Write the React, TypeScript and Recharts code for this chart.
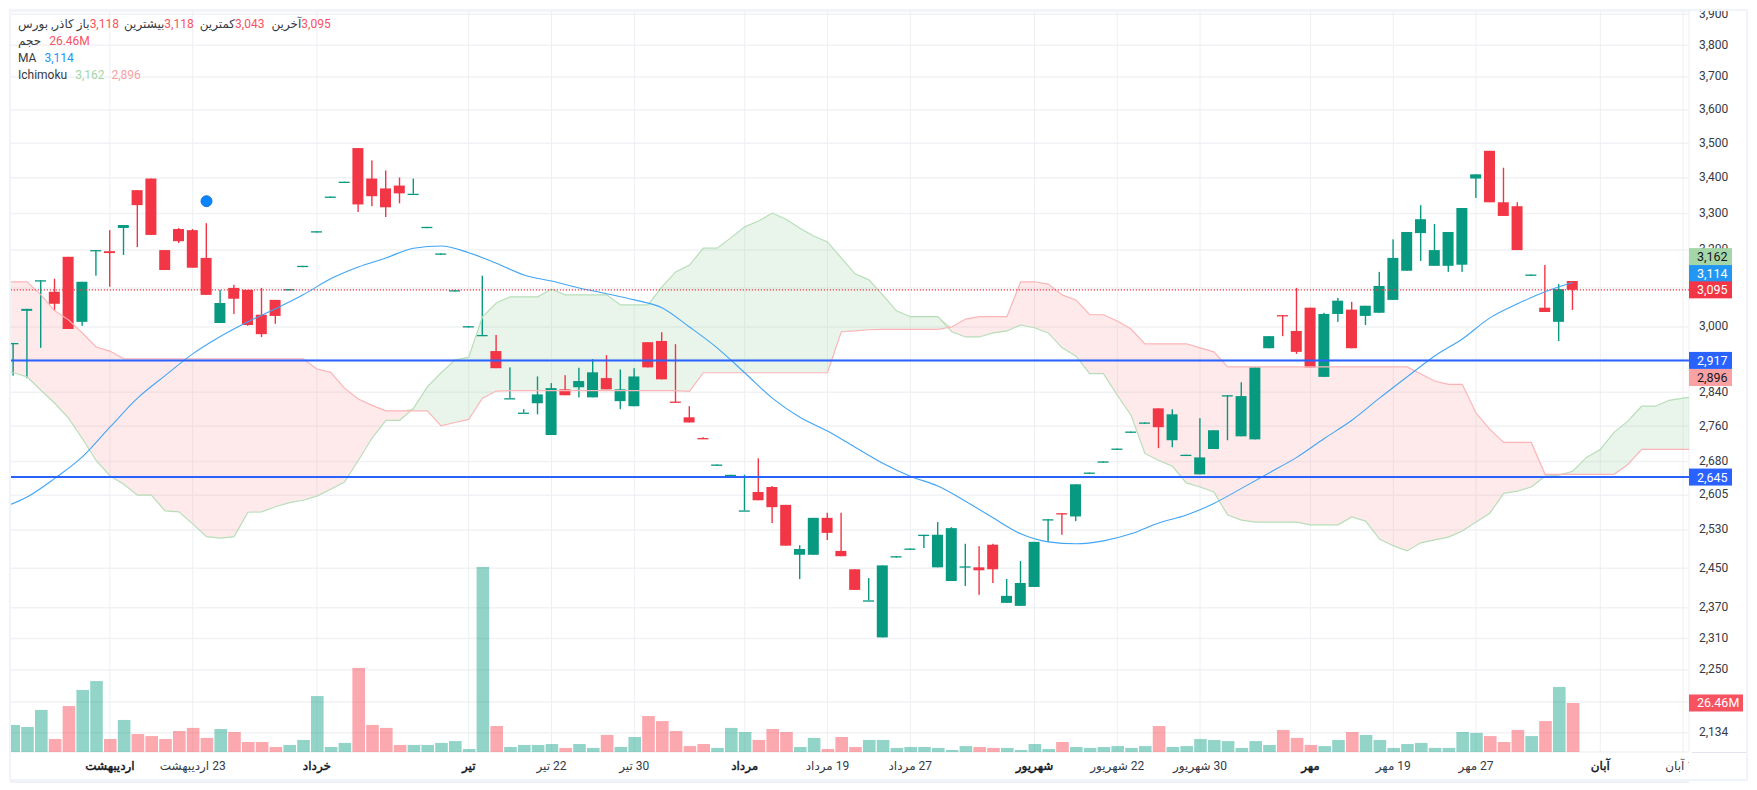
import React from 'react';
import {
  ComposedChart,
  Bar,
  Line,
  Area,
  XAxis,
  YAxis,
  CartesianGrid,
  ReferenceLine,
  ReferenceDot
} from 'recharts';

// candles, one per trading day
const opens = [
  2958, 3041, 3120, 3090, 3182, 3013, 3200, 3197, 3260, 3365,
  3398, 3200, 3257, 3254, 3179, 3010, 3100, 3095, 3031, 3069,
  3097, 3158, 3251, 3347, 3389, 3486, 3398, 3370, 3378, 3355,
  3263, 3191, 3094, 3002, 2980, 2940, 2826, 2792, 2814, 2740,
  2847, 2852, 2828, 2874, 2819, 2807, 2962, 2965, 2818, 2781,
  2733, 2673, 2650, 2572, 2612, 2623, 2584, 2478, 2478, 2556,
  2486, 2448, 2385, 2312, 2475, 2491, 2520, 2452, 2424, 2454,
  2452, 2499, 2380, 2374, 2412, 2553, 2566, 2559, 2655, 2680,
  2709, 2748, 2769, 2802, 2728, 2695, 2651, 2708, 2833, 2737,
  2730, 2947, 3030, 2990, 3049, 2877, 3033, 3044, 3028, 3036,
  3069, 3145, 3246, 3158, 3158, 3161, 3398, 3478, 3331, 3320,
  3135, 3049, 3013, 3118
];
const highs = [
  2960, 3046, 3120, 3124, 3182, 3116, 3200, 3254, 3268, 3365,
  3398, 3200, 3260, 3257, 3273, 3095, 3108, 3095, 3100, 3069,
  3097, 3158, 3251, 3347, 3389, 3486, 3450, 3421, 3401, 3398,
  3263, 3191, 3094, 3002, 3132, 2980, 2900, 2800, 2878, 2862,
  2881, 2899, 2920, 2930, 2895, 2898, 2962, 2987, 2957, 2807,
  2735, 2673, 2650, 2650, 2687, 2625, 2584, 2498, 2556, 2567,
  2567, 2448, 2430, 2456, 2475, 2491, 2520, 2547, 2536, 2501,
  2496, 2501, 2428, 2465, 2505, 2553, 2566, 2629, 2655, 2680,
  2709, 2748, 2769, 2802, 2800, 2695, 2779, 2751, 2833, 2864,
  2900, 2977, 3030, 3100, 3049, 3036, 3074, 3064, 3054, 3142,
  3229, 3249, 3323, 3271, 3249, 3315, 3410, 3478, 3429, 3331,
  3135, 3160, 3110, 3118
];
const lows = [
  2880, 2874, 2948, 3041, 2995, 3003, 3132, 3103, 3187, 3208,
  3241, 3147, 3219, 3153, 3082, 3010, 3033, 3003, 2975, 3008,
  3097, 3158, 3251, 3347, 3389, 3304, 3320, 3290, 3328, 3355,
  3263, 3191, 3094, 3002, 2980, 2898, 2826, 2792, 2788, 2740,
  2833, 2828, 2828, 2847, 2800, 2807, 2900, 2871, 2816, 2769,
  2731, 2673, 2650, 2572, 2594, 2545, 2497, 2428, 2478, 2509,
  2475, 2406, 2385, 2312, 2475, 2491, 2492, 2452, 2424, 2414,
  2396, 2420, 2380, 2374, 2412, 2505, 2520, 2549, 2655, 2680,
  2709, 2748, 2769, 2710, 2712, 2695, 2651, 2708, 2728, 2737,
  2730, 2947, 2977, 2933, 2900, 2877, 3013, 2947, 3005, 3036,
  3069, 3145, 3171, 3158, 3142, 3142, 3343, 3331, 3293, 3200,
  3135, 3038, 2965, 3043
];
const closes = [
  2960, 3046, 3120, 3059, 2995, 3116, 3200, 3192, 3268, 3323,
  3241, 3147, 3224, 3153, 3082, 3061, 3072, 3005, 2982, 3028,
  3097, 3158, 3251, 3347, 3389, 3325, 3348, 3317, 3356, 3355,
  3263, 3191, 3094, 3002, 2980, 2898, 2826, 2792, 2835, 2850,
  2833, 2867, 2888, 2847, 2847, 2878, 2900, 2871, 2816, 2769,
  2731, 2673, 2650, 2572, 2594, 2579, 2497, 2490, 2556, 2524,
  2475, 2406, 2385, 2456, 2475, 2491, 2520, 2520, 2534, 2454,
  2446, 2448, 2394, 2420, 2505, 2553, 2564, 2629, 2655, 2680,
  2709, 2748, 2769, 2758, 2788, 2695, 2689, 2751, 2833, 2831,
  2900, 2977, 3028, 2938, 2900, 3033, 3067, 2947, 3054, 3105,
  3179, 3249, 3284, 3200, 3249, 3315, 3410, 3331, 3293, 3200,
  3135, 3038, 3097, 3095
];

// volume in millions
const volumes = [
  14.6, 13.5, 22.7, 7.0, 24.8, 33.5, 38.3, 7.0, 17.3, 9.7,
  8.6, 7.0, 11.3, 13.0, 7.6, 12.4, 10.8, 5.4, 5.4, 2.7,
  3.8, 6.5, 30.2, 2.7, 4.9, 45.4, 14.6, 13.0, 3.8, 3.8,
  3.8, 4.9, 5.9, 1.6, 99.9, 14.0, 2.7, 3.8, 3.8, 4.3,
  2.2, 4.3, 2.2, 9.2, 2.7, 8.1, 19.4, 16.7, 11.3, 3.2,
  4.3, 2.2, 13.0, 10.8, 6.5, 12.4, 10.8, 2.7, 7.6, 1.6,
  8.1, 2.7, 6.5, 6.5, 2.2, 2.7, 2.7, 2.2, 1.1, 3.2,
  2.7, 2.2, 2.2, 1.1, 4.3, 1.6, 5.4, 2.7, 2.2, 2.7,
  3.2, 2.2, 3.2, 14.0, 2.7, 3.2, 7.0, 6.5, 5.9, 2.2,
  5.9, 3.8, 11.9, 7.6, 3.8, 3.2, 6.5, 10.8, 9.2, 6.5,
  2.2, 4.3, 4.9, 2.2, 2.2, 10.8, 10.3, 8.6, 5.4, 11.9,
  8.6, 16.7, 35.1, 26.46
];

// ichimoku spans, first entry is the day before the first candle
const spanA = [
  2889, 2887, 2877, 2845, 2814, 2779, 2732, 2682, 2648, 2629,
  2605, 2605, 2571, 2569, 2543, 2516, 2513, 2516, 2568, 2569,
  2580, 2589, 2594, 2603, 2618, 2634, 2682, 2733, 2774, 2774,
  2802, 2853, 2887, 2918, 2925, 3026, 3061, 3077, 3077, 3077,
  3097, 3082, 3082, 3082, 3082, 3056, 3056, 3056, 3103, 3142,
  3160, 3205, 3205, 3233, 3263, 3279, 3301, 3284, 3259, 3238,
  3222, 3179, 3137, 3121, 3082, 3041, 3026, 3026, 3026, 2988,
  2975, 2975, 2985, 2990, 3005, 2998, 2985, 2948, 2928, 2885,
  2885, 2833, 2786, 2698, 2682, 2669, 2632, 2623, 2612, 2562,
  2551, 2547, 2547, 2547, 2547, 2541, 2541, 2541, 2558, 2549,
  2511, 2497, 2486, 2503, 2509, 2515, 2528, 2547, 2566, 2609,
  2614, 2623, 2647, 2649, 2658, 2689, 2707, 2746, 2772, 2807,
  2807, 2821, 2826, 2831
];
const spanB = [
  3116, 3116, 3116, 3082, 3041, 3018, 2985, 2950, 2940, 2921,
  2921, 2921, 2921, 2921, 2921, 2921, 2921, 2921, 2921, 2921,
  2921, 2921, 2921, 2896, 2888, 2850, 2824, 2809, 2796, 2796,
  2796, 2796, 2761, 2769, 2776, 2826, 2843, 2844, 2844, 2844,
  2844, 2844, 2844, 2844, 2844, 2844, 2844, 2844, 2844, 2844,
  2842, 2887, 2887, 2887, 2887, 2887, 2887, 2887, 2887, 2887,
  2887, 2988, 2990, 2993, 2994, 2994, 2994, 2994, 2994, 3000,
  3020, 3026, 3026, 3026, 3116, 3116, 3110, 3082, 3069, 3031,
  3031, 3015, 2995, 2958, 2958, 2958, 2958, 2948, 2938, 2901,
  2901, 2901, 2901, 2901, 2901, 2901, 2901, 2901, 2901, 2901,
  2901, 2901, 2901, 2884, 2867, 2859, 2859, 2791, 2753, 2723,
  2723, 2723, 2651, 2651, 2651, 2651, 2651, 2651, 2673, 2707,
  2707, 2707, 2707, 2707
];

// moving average, read every second day
const maDays = [
  -1, 1, 3, 5, 7, 9, 11, 13, 15, 17, 19, 21, 23, 25, 27, 29, 31, 33, 35, 37,
  39, 41, 43, 45, 47, 49, 51, 53, 55, 57, 59, 61, 63, 65, 67, 69, 71, 73, 75, 77,
  79, 81, 83, 85, 87, 89, 91, 93, 95, 97, 99, 101, 103, 105, 107, 109, 111, 113
];
const maValues = [
  2576, 2601, 2642, 2690, 2758, 2826, 2880, 2933, 2976, 3013, 3046, 3082, 3124, 3155, 3179, 3205, 3211, 3193, 3165, 3134,
  3118, 3100, 3085, 3069, 3049, 3000, 2948, 2887, 2826, 2781, 2749, 2712, 2676, 2647, 2625, 2592, 2556, 2522, 2505, 2501,
  2507, 2522, 2545, 2562, 2587, 2620, 2654, 2689, 2732, 2774, 2826, 2877, 2928, 2970, 3023, 3059, 3090, 3114
];

const priceTicks = [
  3900, 3800, 3700, 3600, 3500, 3400, 3300, 3200, 3100, 3000, 2920, 2840,
  2760, 2680, 2605, 2530, 2450, 2370, 2310, 2250, 2190, 2134
];
const dateTicks = [7, 13, 22, 33, 39, 45, 53, 59, 65, 74, 80, 86, 94, 100, 106, 115, 121];
const dateLabels = [
  'اردیبهشت', '23 اردیبهشت', 'خرداد', 'تیر', '22 تیر', '30 تیر', 'مرداد', '19 مرداد', '27 مرداد',
  'شهریور', '22 شهریور', '30 شهریور', 'مهر', '19 مهر', '27 مهر', 'آبان', '11 آبان'
];
const monthNames = ['اردیبهشت', 'خرداد', 'تیر', 'مرداد', 'شهریور', 'مهر', 'آبان'];

const markerDay = 14;
const markerPrice = 3334;
const supportLevels = [2917, 2645];
const lastPrice = 3095;
const lastVolume = 26.46;

const TEAL = '#089981';
const RED = '#f23645';
const FONT = "Roboto, 'Noto Sans', 'DejaVu Sans', sans-serif";

const rows = spanA.map((a, n) => {
  const day = n - 1;
  const b = spanB[n];
  const maAt = maDays.indexOf(day);
  const hasCandle = day >= 0 && day < opens.length;
  return {
    day,
    open: hasCandle ? opens[day] : null,
    close: hasCandle ? closes[day] : null,
    wick: hasCandle ? [lows[day], highs[day]] : null,
    body: hasCandle ? [Math.min(opens[day], closes[day]), Math.max(opens[day], closes[day])] : null,
    volume: hasCandle ? volumes[day] : null,
    spanA: a,
    spanB: b,
    greenCloud: [b, Math.max(a, b)],
    redCloud: [a, Math.max(a, b)],
    ma: maAt >= 0 ? maValues[maAt] : null
  };
});
const allDays = rows.map(r => r.day);

const candleColor = (payload: any) => (payload.close >= payload.open ? TEAL : RED);

const CandleRect = (props: any) => {
  const { x, y, width, height, payload } = props;
  if (payload.open == null) return null;
  const top = Math.min(y, y + height);
  return <rect x={x} y={top} width={width} height={Math.max(Math.abs(height), 1.3)} fill={candleColor(payload)} />;
};

const VolumeRect = (props: any) => {
  const { x, y, width, height, payload } = props;
  if (payload.open == null) return null;
  return (
    <rect
      x={x}
      y={y}
      width={width}
      height={height}
      fill={payload.close >= payload.open ? '#089e83' : '#f7525f'}
      fillOpacity={payload.close >= payload.open ? 0.44 : 0.5}
    />
  );
};

const DateTick = (props: any) => {
  const { x, payload } = props;
  const label = dateLabels[dateTicks.indexOf(payload.value)];
  const isMonth = monthNames.includes(label);
  return (
    <g>
      <defs>
        <clipPath id="date-clip">
          <rect x={0} y={750} width={1689} height={40} />
        </clipPath>
      </defs>
      <g clipPath="url(#date-clip)">
        {/* bold font runs too wide here, a thin stroke keeps the width of the original */}
        <text
          x={x}
          y={769.5}
          direction="rtl"
          textAnchor="middle"
          fontFamily={FONT}
          fontSize={12}
          fill={isMonth ? '#131722' : '#363a45'}
          stroke={isMonth ? '#131722' : 'none'}
          strokeWidth={isMonth ? 0.45 : 0}
        >
          {label}
        </text>
      </g>
    </g>
  );
};

// the colored price labels that sit on the right scale
const priceTag = (text: string, fill: string, color: string, shift = 0, width = 43) => (props: any) => {
  const { x, y, width: lineWidth } = props.viewBox;
  const left = x + lineWidth;
  return (
    <g>
      <rect x={left} y={y + shift - 8.5} width={width} height={17} fill={fill} />
      <text x={left + 8} y={y + shift + 4.5} fontFamily={FONT} fontSize={12.5} fill={color}>
        {text}
      </text>
    </g>
  );
};

const legendRow: React.CSSProperties = { height: 17, lineHeight: '17px', whiteSpace: 'nowrap', display: 'flex' };

const ChartLegend = () => (
  <div style={{ position: 'absolute', left: 18, top: 16, fontFamily: FONT, fontSize: 12, color: '#363a45' }}>
    <div style={legendRow}>
      <span dir="rtl">کاذر, بورس</span>
      <span style={{ marginLeft: 3 }}>باز</span>
      <span style={{ color: '#f7525f' }}>3,118</span>
      <span style={{ marginLeft: 5 }}>بیشترین</span>
      <span style={{ color: '#f7525f' }}>3,118</span>
      <span style={{ marginLeft: 6 }}>کمترین</span>
      <span style={{ color: '#f7525f' }}>3,043</span>
      <span style={{ marginLeft: 7 }}>آخرین</span>
      <span style={{ color: '#f7525f' }}>3,095</span>
    </div>
    <div style={legendRow}>
      <span>حجم</span>
      <span style={{ color: '#f7525f', marginLeft: 8 }}>26.46M</span>
    </div>
    <div style={legendRow}>
      <span>MA</span>
      <span style={{ color: '#2196f3', marginLeft: 8 }}>3,114</span>
    </div>
    <div style={legendRow}>
      <span>Ichimoku</span>
      <span style={{ color: '#a5d6a7', marginLeft: 8 }}>3,162</span>
      <span style={{ color: '#faa1a4', marginLeft: 7 }}>2,896</span>
    </div>
  </div>
);

const dayDomain = [-0.24, 121.43];

const hiddenDayAxis = (id: string) => (
  <XAxis
    xAxisId={id}
    dataKey="day"
    type="number"
    domain={dayDomain}
    ticks={allDays}
    allowDataOverflow
    hide
  />
);

export default function App() {
  const tagZ = { zIndex: 3000 } as any;
  return (
    <div style={{ position: 'absolute', left: 0, top: 0, width: 1757, height: 790, background: '#fff', overflow: 'hidden' }}>
      <ComposedChart width={1757} height={790} data={rows} margin={{ top: 11, right: 0, bottom: 0, left: 10 }}>
        <XAxis
          xAxisId="days"
          dataKey="day"
          type="number"
          domain={dayDomain}
          ticks={dateTicks}
          interval={0}
          allowDataOverflow
          height={38}
          axisLine={{ stroke: '#e0e3eb' }}
          tickLine={false}
          tick={<DateTick />}
        />
        {hiddenDayAxis('volume-days')}
        {hiddenDayAxis('wick-days')}
        {hiddenDayAxis('body-days')}
        <YAxis
          yAxisId="price"
          orientation="right"
          scale="log"
          domain={[2100, 3911]}
          ticks={priceTicks}
          interval={0}
          allowDataOverflow
          width={68}
          axisLine={false}
          tickLine={false}
          tickMargin={4}
          tick={{ fontFamily: FONT, fontSize: 12, fill: '#363a45', textAnchor: 'start', dy: -1 }}
          tickFormatter={(v: number) => v.toLocaleString('en-US')}
        />
        <YAxis yAxisId="volume" orientation="left" domain={[0, 400]} width={0} hide />

        <CartesianGrid xAxisId="days" yAxisId="price" vertical={false} stroke="#f1f2f5" strokeWidth={1.5} />
        <CartesianGrid xAxisId="days" yAxisId="price" horizontal={false} stroke="#eeeff2" />

        <Bar
          xAxisId="volume-days"
          yAxisId="volume"
          dataKey="volume"
          barSize={12.6}
          shape={<VolumeRect />}
          isAnimationActive={false}
        />
        <Area
          xAxisId="days"
          yAxisId="price"
          dataKey="greenCloud"
          stroke="none"
          fill="#a5d6a7"
          fillOpacity={0.24}
          dot={false}
          activeDot={false}
          isAnimationActive={false}
        />
        <Area
          xAxisId="days"
          yAxisId="price"
          dataKey="redCloud"
          stroke="none"
          fill="#faa1a4"
          fillOpacity={0.22}
          dot={false}
          activeDot={false}
          isAnimationActive={false}
        />
        <Line xAxisId="days" yAxisId="price" dataKey="spanA" stroke="#b7deb8" strokeWidth={1.2} dot={false} isAnimationActive={false} />
        <Line xAxisId="days" yAxisId="price" dataKey="spanB" stroke="#fbb5b7" strokeWidth={1.2} dot={false} isAnimationActive={false} />
        <Line xAxisId="days" yAxisId="price" type="monotone" dataKey="ma" stroke="#42a5f5" strokeWidth={1.1} connectNulls dot={false} isAnimationActive={false} />

        <ReferenceLine xAxisId="days" yAxisId="price" y={lastPrice} stroke={RED} strokeWidth={1.2} strokeDasharray="1.2 1.8" />
        {supportLevels.map(level => (
          <ReferenceLine key={level} xAxisId="days" yAxisId="price" y={level} stroke="#2962ff" strokeWidth={2} />
        ))}

        <Bar xAxisId="wick-days" yAxisId="price" dataKey="wick" barSize={1.4} shape={<CandleRect />} isAnimationActive={false} />
        <Bar xAxisId="body-days" yAxisId="price" dataKey="body" barSize={11} shape={<CandleRect />} isAnimationActive={false} />

        <ReferenceDot
          xAxisId="days"
          yAxisId="price"
          x={markerDay}
          y={markerPrice}
          r={5.5}
          fill="#0a84ff"
          stroke="#1976d2"
          strokeWidth={1}
        />

        <ReferenceLine {...tagZ} xAxisId="days" yAxisId="price" y={3162} stroke="none" label={priceTag('3,162', '#a5d6a7', '#131722', -7.7)} />
        <ReferenceLine {...tagZ} xAxisId="days" yAxisId="price" y={3114} stroke="none" label={priceTag('3,114', '#2196f3', '#fff', -9)} />
        <ReferenceLine {...tagZ} xAxisId="days" yAxisId="price" y={lastPrice} stroke="none" label={priceTag('3,095', RED, '#fff')} />
        <ReferenceLine {...tagZ} xAxisId="days" yAxisId="price" y={supportLevels[0]} stroke="none" label={priceTag('2,917', '#2962ff', '#fff')} />
        <ReferenceLine {...tagZ} xAxisId="days" yAxisId="price" y={2896} stroke="none" label={priceTag('2,896', '#faa1a4', '#131722', 8.5)} />
        <ReferenceLine {...tagZ} xAxisId="days" yAxisId="price" y={supportLevels[1]} stroke="none" label={priceTag('2,645', '#2962ff', '#fff')} />
        <ReferenceLine {...tagZ} xAxisId="days" yAxisId="volume" y={lastVolume} stroke="none" label={priceTag('26.46M', '#f7525f', '#fff', 0, 54)} />
      </ComposedChart>

      <ChartLegend />
      {/* chart frame */}
      <div style={{ position: 'absolute', left: 0, top: 0, width: 1757, height: 9, background: '#fff' }} />
      <div style={{ position: 'absolute', left: 1692, top: 752, width: 54, height: 1, background: '#e0e3eb' }} />
      <div
        style={{
          position: 'absolute',
          left: 9,
          top: 9,
          width: 1739,
          height: 772,
          border: '2px solid #f0f3fa',
          boxSizing: 'border-box',
          pointerEvents: 'none'
        }}
      />
    </div>
  );
}
